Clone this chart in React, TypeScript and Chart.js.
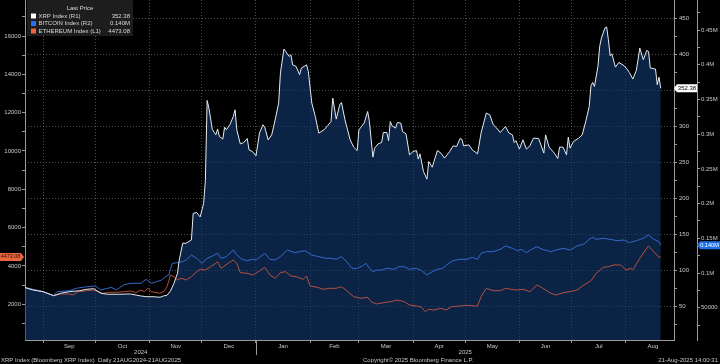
import React, { useEffect, useRef } from 'react';
import { Chart, registerables } from 'chart.js';

Chart.register(...registerables);

// x values are days since 21 Aug 2024 (day 0); last day 21 Aug 2025 = 365
const START_ISO = '2024-08-21';
const monthStartDates = ['2024-09-01', '2024-10-01', '2024-11-01', '2024-12-01', '2025-01-01', '2025-02-01', '2025-03-01', '2025-04-01', '2025-05-01', '2025-06-01', '2025-07-01', '2025-08-01', '2025-09-01'];
const monthNames = ['Sep', 'Oct', 'Nov', 'Dec', 'Jan', 'Feb', 'Mar', 'Apr', 'May', 'Jun', 'Jul', 'Aug'];
const yearLabels = ['2024', '2025'];
const yearBreakDate = '2025-01-01';

const ethTicks = [2000, 4000, 6000, 8000, 10000, 12000, 14000, 16000];
const xrpTicks = [50, 100, 150, 200, 250, 300, 350, 400, 450];
const btcTicks = [50000, 100000, 150000, 200000, 250000, 300000, 350000, 400000, 450000];
const btcTickLabels = ['50000', '0.1M', '0.15M', '0.2M', '0.25M', '0.3M', '0.35M', '0.4M', '0.45M'];

const seriesNames = ['XRP Index (R1)', 'BITCOIN Index (R2)', 'ETHEREUM Index (L1)'];
const legendTitle = 'Last Price';
const footerLeft = 'XRP Index (Bloomberg XRP Index)  Daily 21AUG2024-21AUG2025';
const footerCenter = 'Copyright\u00A9 2025 Bloomberg Finance L.P.';
const footerRight = '21-Aug-2025 14:00:31';

const xrpDay = [0, 5, 11, 17, 21, 26, 32, 36, 40, 44, 48, 55, 61, 67, 70, 74, 78, 80, 82, 84, 86, 88, 89, 91, 93, 96, 97, 99, 101, 103, 104, 105, 106, 108, 110, 111, 112, 114, 115, 116, 118, 120, 121, 122, 124, 126, 128, 129, 131, 133, 135, 137, 138, 140, 142, 144, 146, 147, 149, 150, 152, 153, 154, 156, 158, 159, 162, 163, 165, 167, 169, 172, 174, 176, 177, 179, 181, 182, 184, 187, 189, 191, 192, 195, 197, 198, 200, 201, 203, 205, 206, 208, 209, 210, 211, 213, 214, 216, 217, 219, 221, 223, 225, 226, 227, 229, 231, 232, 234, 237, 239, 241, 244, 246, 248, 250, 251, 252, 255, 257, 260, 262, 265, 267, 269, 271, 273, 276, 278, 280, 281, 282, 284, 286, 288, 290, 292, 295, 298, 299, 301, 304, 306, 307, 309, 311, 312, 313, 315, 318, 320, 322, 324, 325, 326, 327, 329, 330, 331, 333, 334, 335, 336, 337, 339, 341, 344, 346, 347, 349, 351, 353, 355, 357, 358, 359, 362, 363, 364, 365];
const xrpValue = [76.4, 72.6, 70.3, 64.7, 68.1, 70.3, 71.7, 73.6, 74.4, 68.1, 66.7, 66.7, 67.1, 64.3, 63.3, 63.3, 62.5, 64.3, 65.3, 71.2, 81.9, 95.8, 114, 137.5, 137.5, 142, 179, 180, 174, 193, 225, 335.6, 325, 295, 288, 296, 285.6, 282, 298.6, 294.9, 301.8, 313.3, 322.6, 294.9, 275.4, 277.2, 282.8, 267, 264.7, 258.8, 290.3, 301.8, 298.6, 280.8, 287.9, 308.8, 332, 373.6, 407, 403.6, 396.7, 399, 385, 382.8, 371.3, 380.6, 385, 375.8, 332, 313.3, 290.3, 294.9, 300.4, 306.4, 338.9, 309.7, 329.6, 332.8, 308.8, 280.9, 270.8, 266.1, 294.9, 304.2, 320.3, 306.4, 257, 269.4, 275.4, 277.2, 291.1, 291.1, 279.6, 306.4, 300.4, 297.2, 305, 304.2, 292.5, 289.3, 260.1, 264.7, 266.1, 254.2, 261.5, 237, 226.4, 250.8, 243, 266.1, 262.5, 255.6, 264.7, 272.6, 271.7, 282.8, 281.9, 272.6, 274, 267.1, 261.5, 290.3, 318, 315.7, 301.8, 297.2, 291.1, 299.4, 290.3, 287.9, 277.2, 280, 268.1, 281, 268.1, 272.6, 283.3, 282.8, 262.5, 287.9, 270.8, 262.5, 255, 270.8, 270.8, 260.1, 284.7, 269.4, 278.6, 283.3, 287.9, 306.4, 327.2, 356, 360.6, 355, 382.8, 410.6, 422.2, 436.1, 437.5, 419.9, 397.6, 400.4, 381.9, 388.3, 383.8, 378.2, 374.4, 365.3, 377.2, 408.3, 392.1, 405, 403.6, 380.6, 379.2, 357.4, 368, 352.38];

const btcDay = [0, 11, 17, 19, 26, 30, 36, 41, 44, 48, 50, 53, 57, 61, 67, 70, 73, 76, 79, 81, 83, 85, 88, 91, 93, 96, 99, 102, 105, 108, 111, 113, 116, 120, 122, 125, 128, 131, 133, 138, 141, 144, 147, 151, 155, 158, 161, 165, 169, 173, 176, 179, 182, 185, 188, 191, 194, 196, 198, 200, 202, 205, 208, 212, 215, 218, 221, 225, 228, 231, 234, 237, 240, 244, 246, 250, 254, 257, 260, 262, 265, 269, 273, 276, 280, 283, 285, 288, 291, 294, 297, 300, 302, 305, 309, 313, 317, 321, 324, 326, 328, 332, 336, 340, 344, 347, 351, 355, 358, 361, 364, 365];
const btcValue = [79400, 73060, 67300, 73060, 74500, 77960, 80260, 81270, 75510, 77960, 79400, 75510, 82710, 85160, 85160, 90930, 85160, 87470, 89920, 94670, 97120, 113980, 114850, 116290, 118740, 125940, 121190, 113980, 121190, 124500, 128390, 121190, 123490, 133150, 125940, 119750, 117730, 119750, 118740, 128390, 119750, 118740, 123490, 133150, 129260, 130700, 132140, 125940, 123490, 121190, 121190, 119750, 123490, 116290, 106780, 106780, 110090, 113980, 106780, 101880, 104330, 104330, 106780, 105340, 109080, 109080, 105340, 106780, 103320, 97120, 101880, 105340, 106780, 114850, 117730, 119750, 119750, 122630, 119750, 128390, 130700, 130700, 134160, 138910, 135600, 132140, 134160, 129260, 134160, 137900, 134160, 132140, 130700, 133150, 135600, 133150, 138910, 141790, 148570, 151450, 148570, 150010, 148570, 146550, 147560, 143670, 146550, 150010, 154770, 148570, 145110, 140000];

const ethDay = [0, 11, 17, 21, 26, 28, 31, 36, 40, 43, 45, 49, 53, 57, 61, 64, 67, 69, 71, 73, 78, 80, 82, 84, 86, 88, 90, 93, 96, 98, 101, 104, 107, 110, 111, 113, 117, 120, 122, 124, 128, 131, 133, 138, 141, 144, 147, 150, 153, 156, 160, 162, 164, 168, 172, 175, 179, 182, 185, 189, 193, 197, 199, 202, 206, 210, 214, 218, 221, 225, 228, 230, 232, 235, 239, 242, 245, 250, 254, 258, 260, 262, 265, 269, 273, 276, 279, 283, 286, 290, 294, 296, 299, 302, 305, 309, 313, 317, 321, 325, 328, 332, 335, 338, 342, 345, 348, 349, 353, 358, 361, 364, 365];
const ethValue = [2887, 2657, 2448, 2537, 2537, 2485, 2657, 2709, 2746, 2657, 2573, 2626, 2626, 2657, 2694, 2605, 2746, 2657, 2834, 2657, 2573, 2657, 2918, 3529, 3440, 3268, 3356, 3268, 3440, 3617, 3826, 3790, 3962, 4139, 4223, 3878, 4139, 4312, 4139, 3649, 3617, 3529, 3617, 3931, 3529, 3356, 3649, 3701, 3477, 3440, 3304, 3477, 2955, 2887, 2782, 2834, 2834, 2918, 2709, 2396, 2312, 2365, 2135, 2015, 2083, 2135, 2224, 2135, 1963, 1911, 1843, 1613, 1738, 1702, 1790, 1702, 1874, 1911, 1947, 1911, 1911, 2396, 2834, 2709, 2709, 2834, 2782, 2746, 2782, 2657, 3007, 2918, 2746, 2573, 2485, 2605, 2657, 2746, 3007, 3231, 3617, 3931, 3962, 4051, 4051, 3790, 3878, 3790, 4400, 5043, 4745, 4453, 4473.08];

const FONT = '"Liberation Sans", Arial, sans-serif';
const TICK_COLOR = '#c8c8c8';
const GRID_COLOR = 'rgba(140,140,140,0.55)';
const AXIS_COLOR = '#9a9a9a';
const XRP_COLOR = '#e6eaf0';
const BTC_COLOR = '#3468cc';
const ETH_COLOR = '#b5503f';
const XRP_FILL = 'rgba(18,58,112,0.62)';

const X_MIN = 0.6;
const X_MAX = 372.6;

function dayOf(iso: string): number {
  const [y, m, d] = iso.split('-').map(Number);
  const [y0, m0, d0] = START_ISO.split('-').map(Number);
  return Math.round((Date.UTC(y, m - 1, d) - Date.UTC(y0, m0 - 1, d0)) / 86400000);
}

const startDays = monthStartDates.map(dayOf);
const gridDays = startDays.slice(0, monthNames.length);
const midDays = monthNames.map((_, i) => (startDays[i] + startDays[i + 1]) / 2);

function pts(days: number[], vals: number[]) {
  return days.map((d, i) => ({ x: d, y: vals[i] }));
}

function withMinor(major: number[]) {
  const step = major[1] - major[0];
  const out: number[] = [major[0] - step / 2];
  major.forEach((v) => { out.push(v); out.push(v + step / 2); });
  return out;
}

const overlay = {
  id: 'overlay',
  afterDraw(chart: any) {
    const { ctx, chartArea, scales } = chart;
    const xs = scales.x;
    ctx.save();

    // year separator + year labels
    const janX = Math.round(xs.getPixelForValue(dayOf(yearBreakDate))) + 0.5;
    ctx.strokeStyle = AXIS_COLOR;
    ctx.lineWidth = 1;
    ctx.beginPath();
    ctx.moveTo(janX, chartArea.bottom);
    ctx.lineTo(janX, chartArea.bottom + 15);
    ctx.stroke();
    ctx.font = `6px ${FONT}`;
    ctx.fillStyle = TICK_COLOR;
    ctx.textAlign = 'center';
    ctx.textBaseline = 'middle';
    ctx.fillText(yearLabels[0], (chartArea.left + janX) / 2, 352.5);
    ctx.fillText(yearLabels[1], (janX + chartArea.right) / 2, 352.5);

    // footer
    ctx.textAlign = 'left';
    ctx.fillText(footerLeft, 1, 360);
    ctx.fillText(footerCenter, 363, 360);
    ctx.textAlign = 'right';
    ctx.fillText(footerRight, 718, 360);

    // legend box
    ctx.fillStyle = '#1d1d1d';
    ctx.fillRect(27, 0, 106, 36);
    ctx.font = `6px ${FONT}`;
    ctx.fillStyle = '#d8d8d8';
    ctx.textAlign = 'center';
    ctx.fillText(legendTitle, 80, 8.5);
    const swatch = ['#ffffff', '#2a6ef0', '#f0663a'];
    const lastVals = [
      xrpValue[xrpValue.length - 1].toFixed(2),
      (btcValue[btcValue.length - 1] / 1e6).toFixed(3) + 'M',
      ethValue[ethValue.length - 1].toFixed(2),
    ];
    const rowY = [16, 23.5, 31];
    seriesNames.forEach((name, i) => {
      ctx.fillStyle = swatch[i];
      ctx.fillRect(31, rowY[i] - 2.5, 5, 5);
      ctx.fillStyle = '#d8d8d8';
      ctx.textAlign = 'left';
      ctx.fillText(name, 38.5, rowY[i]);
      ctx.textAlign = 'right';
      ctx.fillText(lastVals[i], 130, rowY[i]);
    });

    // value tags on axes
    const tag = (poly: number[][], fill: string, text: string, tx: number, color: string, size: number, ty: number) => {
      ctx.fillStyle = fill;
      ctx.beginPath();
      poly.forEach(([px, py], k) => (k ? ctx.lineTo(px, py) : ctx.moveTo(px, py)));
      ctx.closePath();
      ctx.fill();
      ctx.fillStyle = color;
      ctx.textAlign = 'center';
      ctx.font = `${size}px ${FONT}`;
      ctx.fillText(text, tx, ty);
    };
    const yx = scales.yR1.getPixelForValue(xrpValue[xrpValue.length - 1]);
    tag([[674, yx], [677, yx - 4], [697, yx - 4], [697, yx + 4], [677, yx + 4]], '#ffffff', lastVals[0], 687, '#000000', 6, yx);
    const yb = scales.yR2.getPixelForValue(btcValue[btcValue.length - 1]);
    tag([[697, yb], [700, yb - 4], [720, yb - 4], [720, yb + 4], [700, yb + 4]], '#1f6fe8', lastVals[1], 709.5, '#ffffff', 5.6, yb);
    const ye = scales.yL.getPixelForValue(ethValue[ethValue.length - 1]);
    tag([[0, ye - 4], [21, ye - 4], [24, ye], [21, ye + 4], [0, ye + 4]], '#e8663e', lastVals[2], 10.5, '#3a0d00', 5.4, ye);

    ctx.restore();
  },
};

export default function App() {
  const ref = useRef<HTMLCanvasElement | null>(null);

  useEffect(() => {
    if (!ref.current) return;
    const tickFont = { family: FONT, size: 6 };
    const chart = new Chart(ref.current, {
      type: 'line',
      data: {
        datasets: [
          {
            label: seriesNames[0],
            data: pts(xrpDay, xrpValue),
            yAxisID: 'yR1',
            borderColor: XRP_COLOR,
            borderWidth: 1,
            pointRadius: 0,
            tension: 0,
            fill: 'start',
            backgroundColor: XRP_FILL,
          },
          {
            label: seriesNames[1],
            data: pts(btcDay, btcValue),
            yAxisID: 'yR2',
            borderColor: BTC_COLOR,
            borderWidth: 1,
            pointRadius: 0,
            tension: 0,
            fill: false,
          },
          {
            label: seriesNames[2],
            data: pts(ethDay, ethValue),
            yAxisID: 'yL',
            borderColor: ETH_COLOR,
            borderWidth: 1,
            pointRadius: 0,
            tension: 0,
            fill: false,
          },
        ],
      },
      options: {
        responsive: false,
        animation: false,
        events: [],
        layout: { padding: 0 },
        plugins: {
          legend: { display: false },
          tooltip: { enabled: false },
          filler: { drawTime: 'beforeDatasetsDraw' },
        },
        scales: {
          x: {
            type: 'linear',
            position: 'bottom',
            min: X_MIN,
            max: X_MAX,
            afterBuildTicks: (s: any) => {
              s.ticks = [...gridDays, ...midDays].sort((a, b) => a - b).map((v) => ({ value: v }));
            },
            afterFit: (s: any) => { s.height = 24; s.paddingLeft = 0; s.paddingRight = 0; },
            ticks: {
              autoSkip: false,
              maxRotation: 0,
              minRotation: 0,
              padding: 0,
              color: TICK_COLOR,
              font: tickFont,
              callback: (v: any) => {
                const i = midDays.indexOf(v);
                return i >= 0 ? monthNames[i] : '';
              },
            },
            grid: {
              color: (c: any) => (c.tick && gridDays.includes(c.tick.value) ? GRID_COLOR : 'rgba(0,0,0,0)'),
              tickColor: (c: any) => (c.tick && gridDays.includes(c.tick.value) ? AXIS_COLOR : 'rgba(0,0,0,0)'),
              tickLength: 3,
              lineWidth: 1,
            },
            border: { display: true, color: AXIS_COLOR, dash: [1, 2] },
          },
          yL: {
            type: 'linear',
            position: 'left',
            min: 136,
            max: 17880,
            afterBuildTicks: (s: any) => { s.ticks = withMinor(ethTicks).map((v) => ({ value: v })); },
            afterFit: (s: any) => { s.width = 25; s.paddingTop = 0; s.paddingBottom = 0; },
            ticks: {
              padding: 1,
              color: TICK_COLOR,
              font: tickFont,
              callback: (v: any) => (ethTicks.includes(v) ? String(v) : ''),
            },
            grid: { drawOnChartArea: false, tickLength: 3, tickColor: AXIS_COLOR },
            border: { display: true, color: AXIS_COLOR },
          },
          yR1: {
            type: 'linear',
            position: 'right',
            weight: 0,
            min: 3.2,
            max: 475,
            afterBuildTicks: (s: any) => { s.ticks = withMinor(xrpTicks).filter((v) => v < 470).map((v) => ({ value: v })); },
            afterFit: (s: any) => { s.width = 23; s.paddingTop = 0; s.paddingBottom = 0; },
            ticks: {
              padding: 2,
              color: TICK_COLOR,
              font: tickFont,
              callback: (v: any) => (xrpTicks.includes(v) ? String(v) : ''),
            },
            grid: {
              drawOnChartArea: true,
              color: (c: any) => (c.tick && xrpTicks.includes(c.tick.value) ? GRID_COLOR : 'rgba(0,0,0,0)'),
              tickColor: AXIS_COLOR,
              tickLength: 3,
            },
            border: { display: true, color: AXIS_COLOR, dash: [1, 2] },
          },
          yR2: {
            type: 'linear',
            position: 'right',
            weight: 1,
            min: 3460,
            max: 493400,
            afterBuildTicks: (s: any) => { s.ticks = withMinor(btcTicks).filter((v) => v < 490000).map((v) => ({ value: v })); },
            afterFit: (s: any) => { s.width = 23; s.paddingTop = 0; s.paddingBottom = 0; },
            ticks: {
              padding: 1,
              color: TICK_COLOR,
              font: tickFont,
              callback: (v: any) => {
                const i = btcTicks.indexOf(v);
                return i >= 0 ? btcTickLabels[i] : '';
              },
            },
            grid: { drawOnChartArea: false, tickLength: 3, tickColor: AXIS_COLOR },
            border: { display: true, color: AXIS_COLOR },
          },
        },
      } as any,
      plugins: [overlay],
    });
    return () => chart.destroy();
  }, []);

  return (
    <div style={{ position: 'absolute', left: 0, top: 0, width: 720, height: 364, background: '#000', overflow: 'hidden' }}>
      <canvas ref={ref} width={720} height={364} style={{ display: 'block', width: 720, height: 364 }} />
    </div>
  );
}
